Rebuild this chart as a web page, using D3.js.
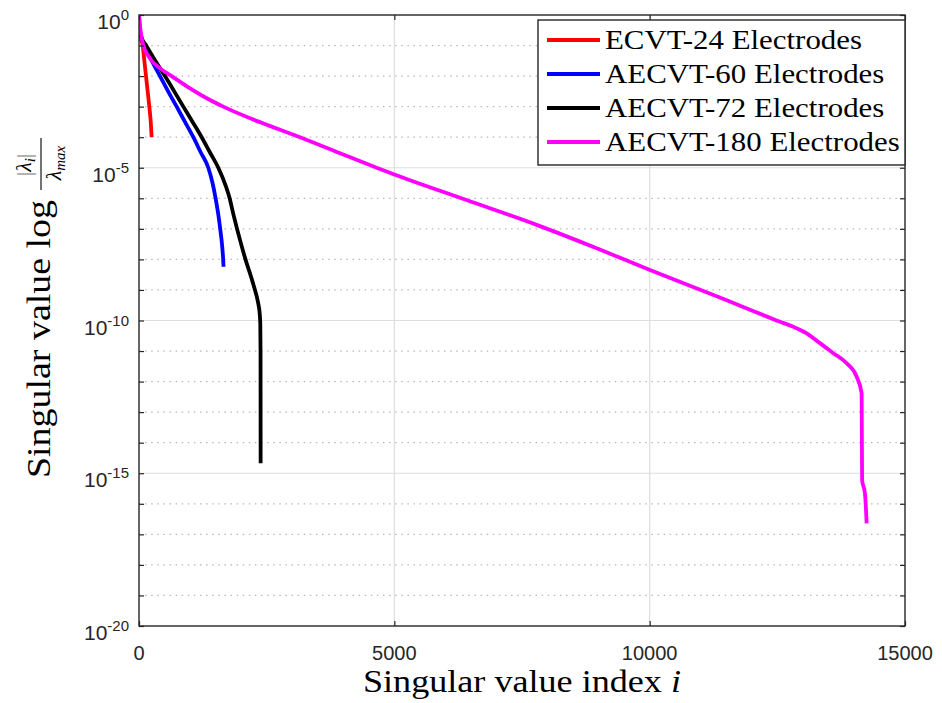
<!DOCTYPE html>
<html><head><meta charset="utf-8">
<script src="https://cdn.jsdelivr.net/npm/d3@7"></script>
<style>body{margin:0;background:#fff} svg{display:block}</style>
</head><body><svg id="c" width="942" height="703"></svg>
<script>
// ---------- data ----------
const xTickValues = [0, 5000, 10000, 15000];
const yLabelExponents = [0, -5, -10, -15, -20];
const seriesNames = ["ECVT-24 Electrodes", "AECVT-60 Electrodes", "AECVT-72 Electrodes", "AECVT-180 Electrodes"];
const seriesColors = ["#ff0000", "#0000ff", "#000000", "#ff00ff"];

// singular value index and log10(|lambda_i|/lambda_max)
const ecvt24Index = [1, 5, 10, 30, 72, 105, 137, 170, 202, 230, 248];
const ecvt24Log   = [0, -0.3, -0.5, -0.75, -1.0, -1.5, -2.0, -2.5, -3.0, -3.5, -4.0];

const aecvt60Index = [1, 5, 15, 40, 100, 250, 411, 570, 738, 900, 1064, 1210, 1357, 1440, 1500, 1550, 1590, 1625, 1648, 1655];
const aecvt60Log   = [0, -0.3, -0.5, -0.7, -1.0, -1.5, -2.0, -2.5, -3.0, -3.5, -4.0, -4.5, -5.0, -5.5, -6.0, -6.5, -7.0, -7.5, -8.0, -8.24];

const aecvt72Index = [1, 5, 15, 40, 140, 320, 509, 690, 868, 1050, 1227, 1390, 1553, 1700, 1775, 1845, 1920, 2000, 2085, 2200, 2271, 2330, 2365, 2375, 2380, 2382];
const aecvt72Log   = [0, -0.3, -0.5, -0.7, -1.0, -1.5, -2.0, -2.5, -3.0, -3.5, -4.0, -4.5, -5.0, -5.6, -6.0, -6.5, -7.0, -7.5, -8.0, -8.6, -9.0, -9.4, -9.8, -10.1, -11.0, -14.67];

const aecvt180Index = [1, 10, 30, 85, 150, 250, 400, 640, 1000, 1300, 1651, 2400, 3153, 3900, 4654, 5000, 6400, 7852, 9000, 10006, 11300, 12552, 12800, 13050, 13300, 13596, 13858, 14053, 14151, 14160, 14216, 14249];
const aecvt180Log   = [0, -0.2, -0.5, -1.0, -1.25, -1.5, -1.73, -2.0, -2.4, -2.7, -3.0, -3.53, -4.0, -4.5, -5.0, -5.22, -6.05, -6.91, -7.66, -8.35, -9.2, -10.04, -10.2, -10.4, -10.7, -11.07, -11.40, -11.84, -12.38, -15.22, -15.66, -16.64];

const seriesIndex = [ecvt24Index, aecvt60Index, aecvt72Index, aecvt180Index];
const seriesLog = [ecvt24Log, aecvt60Log, aecvt72Log, aecvt180Log];

// ---------- layout ----------
const svg = d3.select("#c");
const M = {l: 139, r: 905, t: 15, b: 626};
const x = d3.scaleLinear().domain([0, 15000]).range([M.l, M.r]);
const y = d3.scaleLog().domain([1e-20, 1]).range([M.b, M.t]);
const axisColor = "#262626";
const sansFont = "'Liberation Sans', Arial, Helvetica, sans-serif";
const serifFont = "'Liberation Serif', 'Times New Roman', 'DejaVu Serif', serif";

svg.append("rect").attr("width", 942).attr("height", 703).attr("fill", "#fff");

const decades = d3.range(-20, 1);
const minorExps = decades.filter(e => e % 5 !== 0);
const majorExps = decades.filter(e => e % 5 === 0 && e !== 0 && e !== -20);

// grid
const grid = svg.append("g");
grid.selectAll("line.minor").data(minorExps).join("line")
  .attr("x1", M.l).attr("x2", M.r)
  .attr("y1", e => y(Math.pow(10, e))).attr("y2", e => y(Math.pow(10, e)))
  .attr("stroke", "#b8b8b8").attr("stroke-width", 1.3).attr("stroke-dasharray", "1.5 4.6");
grid.selectAll("line.majy").data(majorExps).join("line")
  .attr("x1", M.l).attr("x2", M.r)
  .attr("y1", e => y(Math.pow(10, e))).attr("y2", e => y(Math.pow(10, e)))
  .attr("stroke", "#dedede").attr("stroke-width", 1.2);
grid.selectAll("line.majx").data(xTickValues.slice(1, -1)).join("line")
  .attr("y1", M.t).attr("y2", M.b)
  .attr("x1", d => x(d)).attr("x2", d => x(d))
  .attr("stroke", "#dedede").attr("stroke-width", 1.2);

// clip
svg.append("clipPath").attr("id", "plotclip").append("rect")
  .attr("x", M.l).attr("y", M.t - 2).attr("width", M.r - M.l).attr("height", M.b - M.t + 4);

// series
const line = d3.line().curve(d3.curveMonotoneX).x(d => x(d[0])).y(d => y(Math.pow(10, d[1])));
const gLines = svg.append("g").attr("clip-path", "url(#plotclip)");
seriesIndex.forEach((idx, k) => {
  const pts = idx.map((v, i) => [v, seriesLog[k][i]]);
  gLines.append("path").datum(pts).attr("d", line)
    .attr("fill", "none").attr("stroke", seriesColors[k])
    .attr("stroke-width", 3.8).attr("stroke-linejoin", "round");
});

// ticks (inward) via d3 axes
const yTickVals = decades.map(e => Math.pow(10, e));
function styleAxis(g) {
  g.select(".domain").remove();
  g.selectAll(".tick line").attr("stroke", axisColor).attr("stroke-width", 1.2);
  g.selectAll(".tick text").remove();
}
svg.append("g").attr("transform", `translate(${M.l},0)`)
  .call(d3.axisRight(y).tickValues(yTickVals).tickSize(5).tickFormat("")).call(styleAxis);
svg.append("g").attr("transform", `translate(${M.r},0)`)
  .call(d3.axisLeft(y).tickValues(yTickVals).tickSize(5).tickFormat("")).call(styleAxis);
svg.append("g").attr("transform", `translate(0,${M.b})`)
  .call(d3.axisTop(x).tickValues(xTickValues).tickSize(5).tickFormat("")).call(styleAxis);
svg.append("g").attr("transform", `translate(0,${M.t})`)
  .call(d3.axisBottom(x).tickValues(xTickValues).tickSize(5).tickFormat("")).call(styleAxis);

// box
svg.append("rect").attr("x", M.l).attr("y", M.t).attr("width", M.r - M.l).attr("height", M.b - M.t)
  .attr("fill", "none").attr("stroke", axisColor).attr("stroke-width", 1.4);

// x tick labels
svg.append("g").selectAll("text").data(xTickValues).join("text")
  .attr("x", d => x(d)).attr("y", M.b + 34)
  .attr("text-anchor", "middle").attr("font-family", sansFont).attr("font-size", 20)
  .attr("fill", axisColor).text(d => d3.format("d")(d));

// y tick labels 10^n
const yl = svg.append("g").selectAll("text").data(yLabelExponents).join("text")
  .attr("x", M.l - 10).attr("y", e => y(Math.pow(10, e)) + 14)
  .attr("text-anchor", "end").attr("font-family", sansFont).attr("fill", axisColor);
yl.append("tspan").attr("font-size", 21).text("10");
yl.append("tspan").attr("font-size", 15).attr("dy", -9).text(e => String(e));

// x label
const xl = svg.append("text").attr("x", (M.l + M.r) / 2).attr("y", 692)
  .attr("text-anchor", "middle").attr("font-family", serifFont).attr("font-size", 32).attr("fill", "#000");
xl.append("tspan").text("Singular value index ");
xl.append("tspan").attr("font-style", "italic").text("i");
xl.attr("textLength", 318).attr("lengthAdjust", "spacingAndGlyphs");

// y label with fraction (rotated)
const gy = svg.append("g").attr("transform", "rotate(-90)").attr("font-family", serifFont).attr("fill", "#000");
gy.append("text").attr("x", -478).attr("y", 50).attr("font-size", 34)
  .attr("textLength", 278).attr("lengthAdjust", "spacingAndGlyphs").text("Singular value log");
gy.append("line").attr("x1", -190).attr("x2", -138).attr("y1", 41).attr("y2", 41)
  .attr("stroke", "#000").attr("stroke-width", 1.1);
const num = gy.append("text").attr("x", -165).attr("y", 31).attr("text-anchor", "middle").attr("font-size", 22);
num.append("tspan").attr("fill", "#777").text("|");
num.append("tspan").attr("font-style", "italic").text("λ");
num.append("tspan").attr("font-style", "italic").attr("font-size", 15).attr("dy", 4).text("i");
num.append("tspan").attr("fill", "#777").attr("dy", -4).text("|");
const den = gy.append("text").attr("x", -163).attr("y", 61).attr("text-anchor", "middle").attr("font-size", 22);
den.append("tspan").attr("font-style", "italic").text("λ");
den.append("tspan").attr("font-style", "italic").attr("font-size", 15).attr("dy", 4).text("max");

// legend
const L = {x: 538, y: 20, w: 367, h: 145};
const gl = svg.append("g");
gl.append("rect").attr("x", L.x).attr("y", L.y).attr("width", L.w).attr("height", L.h)
  .attr("fill", "#fff").attr("stroke", axisColor).attr("stroke-width", 1.4);
const rowY = [40, 74, 108, 142];
const legTexts = [];
seriesNames.forEach((name, k) => {
  gl.append("line").attr("x1", 547).attr("x2", 600).attr("y1", rowY[k]).attr("y2", rowY[k])
    .attr("stroke", seriesColors[k]).attr("stroke-width", 4);
  const t = gl.append("text").attr("x", 605).attr("y", rowY[k] + 9)
    .attr("font-family", serifFont).attr("font-size", 27).attr("fill", "#000").text(name);
  legTexts.push(t);
});
const w0 = legTexts[0].node().getComputedTextLength();
const kx = 257 / w0;
legTexts.forEach(t => {
  const w = t.node().getComputedTextLength();
  t.attr("textLength", w * kx).attr("lengthAdjust", "spacingAndGlyphs");
});
</script>
</body></html>
